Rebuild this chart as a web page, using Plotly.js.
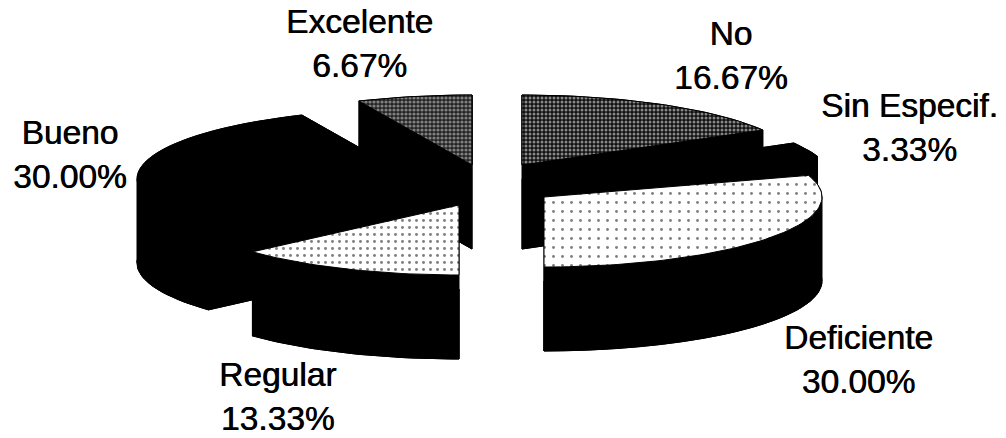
<!DOCTYPE html>
<html><head><meta charset="utf-8">
<script src="https://cdn.plot.ly/plotly-3.0.1.min.js"></script>
<style>html,body{margin:0;padding:0;background:#fff;overflow:hidden}#c{width:1006px;height:438px}</style>
</head><body><div id="c"></div>
<script>
// Data, clockwise from twelve o'clock
const categories = ["No","Sin Especif.","Deficiente","Regular","Bueno","Excelente"];
const percents = [16.67,3.33,30.00,13.33,30.00,6.67];

// Pseudo-3D pie geometry (in axis units = pixels)
const radiusX = 278, radiusY = 70, depth = 84;
const apexX = [522,553,544,459,415,472];
const apexY = [165,178,197,205,179,165];
const drawOrder = [1,0,2,5,4,3];
const topStyles = [
  {fillcolor:"#000",fillpattern:{shape:".",size:4,solidity:0.45,fgcolor:"#fff",bgcolor:"#111",fillmode:"overlay"}},
  {fillcolor:"#000"},
  {fillcolor:"#fff",fillpattern:{shape:".",size:9,solidity:0.08,fgcolor:"#000",bgcolor:"#fff",fillmode:"overlay"}},
  {fillcolor:"#fff",fillpattern:{shape:".",size:7,solidity:0.14,fgcolor:"#000",bgcolor:"#fff",fillmode:"overlay"}},
  {fillcolor:"#000"},
  {fillcolor:"#555",fillpattern:{shape:".",size:4,solidity:0.5,fgcolor:"#ddd",bgcolor:"#222",fillmode:"overlay"}}
];
const labelX = [731,909,858,277,70,359];
const labelY = [55,127,359,396,154,43];

const total = percents.reduce((a,b)=>a+b,0);
const poly = (x,y,extra)=>Object.assign({type:"scatter",mode:"lines",x,y,fill:"toself",fillcolor:"#000",
  line:{color:"#000",width:1},hoverinfo:"skip",showlegend:false},extra||{});

let cum = 0;
const wedges = percents.map((p,i)=>{
  const a0 = cum/total*2*Math.PI; cum += p; const a1 = cum/total*2*Math.PI;
  // break the arc where it turns around in x, so each wall piece is a simple polygon
  const cuts=[a0];
  [Math.PI/2,3*Math.PI/2].forEach(c=>{if(c>a0&&c<a1)cuts.push(c);});
  cuts.push(a1);
  const pieces=[];
  for(let s=0;s<cuts.length-1;s++){
    const steps=Math.max(3,Math.ceil((cuts[s+1]-cuts[s])/0.03));
    const ax=[],ay=[];
    for(let k=0;k<=steps;k++){
      const t=cuts[s]+(cuts[s+1]-cuts[s])*k/steps;
      ax.push(apexX[i]+radiusX*Math.sin(t));
      ay.push(apexY[i]-radiusY*Math.cos(t));
    }
    pieces.push({ax,ay});
  }
  return {pieces,cx:apexX[i],cy:apexY[i]};
});

const traces=[];
drawOrder.forEach(i=>{
  const w=wedges[i];
  const ax=[].concat(...w.pieces.map(p=>p.ax)), ay=[].concat(...w.pieces.map(p=>p.ay));
  const n=ax.length-1;
  // bottom cap
  traces.push(poly([w.cx,...ax,w.cx],[w.cy+depth,...ay.map(v=>v+depth),w.cy+depth]));
  // outer wall pieces
  w.pieces.forEach(p=>{
    traces.push(poly([...p.ax,...p.ax.slice().reverse()],[...p.ay,...p.ay.slice().reverse().map(v=>v+depth)]));
  });
  // radial cut faces
  traces.push(poly([w.cx,ax[0],ax[0],w.cx],[w.cy,ay[0],ay[0]+depth,w.cy+depth]));
  traces.push(poly([w.cx,ax[n],ax[n],w.cx],[w.cy,ay[n],ay[n]+depth,w.cy+depth]));
  // top surface
  traces.push(poly([w.cx,...ax,w.cx],[w.cy,...ay,w.cy],topStyles[i]));
});

const annotations=categories.map((c,i)=>({
  x:labelX[i],y:labelY[i],xref:"x",yref:"y",showarrow:false,
  text:c+"<br>"+percents[i].toFixed(2)+"%",align:"center",
  font:{family:"Liberation Sans, Arial, sans-serif",size:33.5,color:"#000",shadow:"0.6px 0 0 #000"}
}));

Plotly.newPlot("c",traces,{
  width:1006,height:438,margin:{l:0,r:0,t:0,b:0},
  paper_bgcolor:"#fff",plot_bgcolor:"#fff",showlegend:false,
  xaxis:{range:[0,1006],visible:false,fixedrange:true},
  yaxis:{range:[438,0],visible:false,fixedrange:true},
  annotations
},{displayModeBar:false,staticPlot:true});
</script></body></html>
